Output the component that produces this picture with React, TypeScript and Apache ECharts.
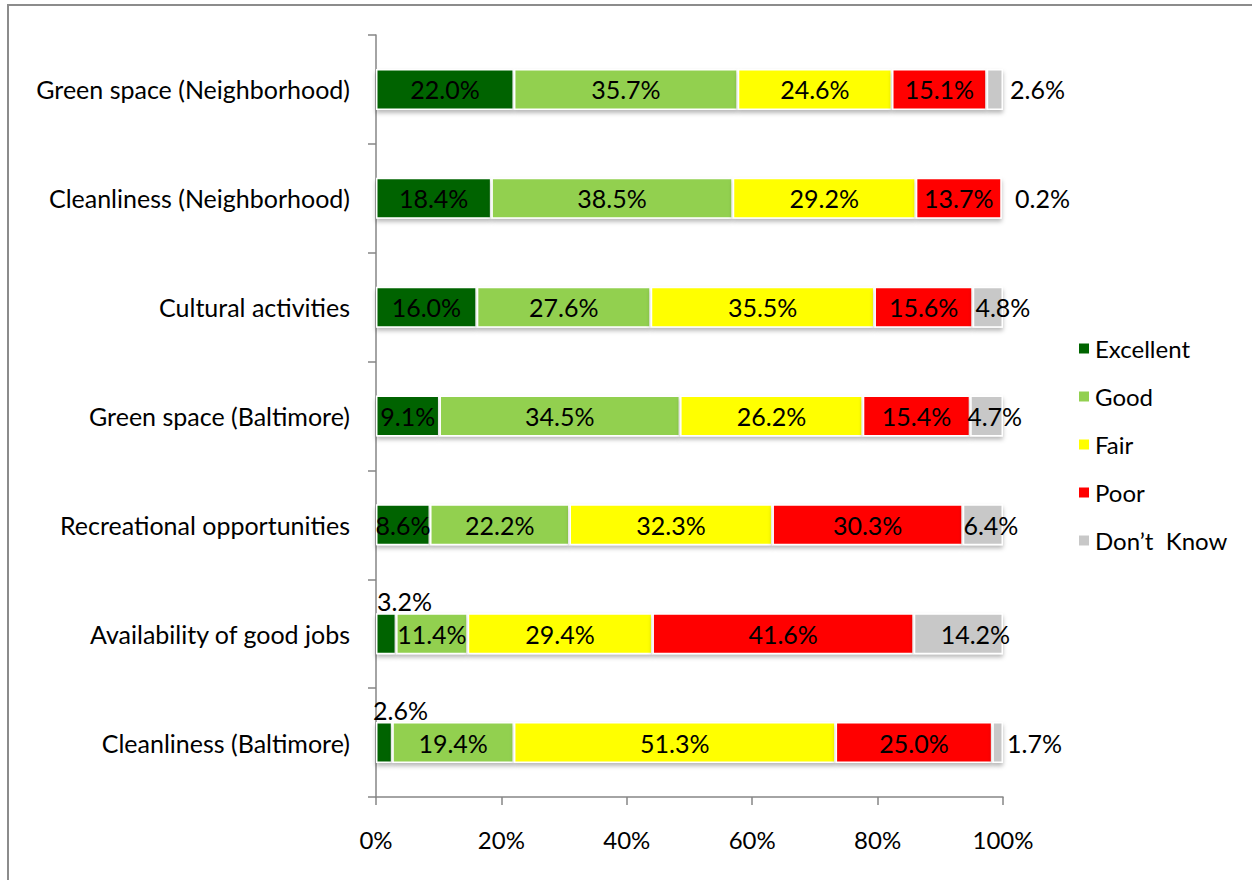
import React, { useEffect, useRef } from "react";
import * as echarts from "echarts";

const categories = [
  "Green space (Neighborhood)",
  "Cleanliness (Neighborhood)",
  "Cultural activities",
  "Green space (Baltimore)",
  "Recreational opportunities",
  "Availability of good jobs",
  "Cleanliness (Baltimore)",
];
const seriesNames = ["Excellent", "Good", "Fair", "Poor", "Don\u2019t  Know"];
const excellent = [22.0, 18.4, 16.0, 9.1, 8.6, 3.2, 2.6];
const good = [35.7, 38.5, 27.6, 34.5, 22.2, 11.4, 19.4];
const fair = [24.6, 29.2, 35.5, 26.2, 32.3, 29.4, 51.3];
const poor = [15.1, 13.7, 15.6, 15.4, 30.3, 41.6, 25.0];
const dontKnow = [2.6, 0.2, 4.8, 4.7, 6.4, 14.2, 1.7];
const xTicks = [0, 20, 40, 60, 80, 100];

const colors = ["#006400", "#92D050", "#FFFF00", "#FF0000", "#C8C8C8"];
const FONT = "Lato";

export default function App() {
  const ref = useRef<HTMLDivElement>(null);
  useEffect(() => {
    if (!ref.current) return;
    const chart = echarts.init(ref.current, undefined, { renderer: "svg" });
    const all = [excellent, good, fair, poor, dontKnow];
    const sums = categories.map((_, i) => all.reduce((s, arr) => s + arr[i], 0));

    // label tweaks (style only)
    const labelTweaks: Record<string, any> = {
      "0-5": { position: [1, -12], align: "left", verticalAlign: "middle" },
      "0-6": { position: [-3, -12], align: "left", verticalAlign: "middle" },
      "4-0": { position: "right", distance: 7 },
      "4-1": { position: "right", distance: 12 },
      "4-2": { position: "inside", offset: [15, 0] },
      "4-3": { position: "inside", offset: [8, 0] },
      "4-4": { position: "inside", offset: [8, 0] },
      "4-5": { position: "inside", offset: [17, 0] },
      "4-6": { position: "right", distance: 4 },
    };

    const series = all.map((arr, s) => ({
      name: seriesNames[s],
      type: "bar",
      stack: "total",
      barWidth: 41,
      itemStyle: {
        color: colors[s],
        borderColor: "#ffffff",
        borderWidth: 1.5,
        shadowColor: "rgba(0,0,0,0.28)",
        shadowBlur: 4,
        shadowOffsetY: 3,
      },
      label: {
        show: true,
        position: "inside",
        color: "#000",
        fontFamily: FONT,
        fontSize: 25,
        formatter: (p: any) => arr[p.dataIndex].toFixed(1) + "%",
      },
      data: arr.map((v, i) => {
        const item: any = { value: (v / sums[i]) * 100 };
        const t = labelTweaks[`${s}-${i}`];
        if (t) item.label = t;
        return item;
      }),
    }));

    chart.setOption({
      animation: false,
      backgroundColor: "#ffffff",
      textStyle: { fontFamily: FONT },
      graphic: [
        {
          type: "rect",
          shape: { x: 8, y: 5, width: 1400, height: 1000 },
          style: { fill: "none", stroke: "#8c8c8c", lineWidth: 2 },
          silent: true,
        },
      ],
      legend: {
        orient: "vertical",
        left: 1072,
        top: 331,
        itemWidth: 12,
        itemHeight: 12,
        itemGap: 23,
        icon: "rect",
        textStyle: { fontFamily: FONT, fontSize: 24, color: "#000", lineHeight: 25 },
        data: seriesNames,
      },
      grid: { left: 376, right: 249, top: 35, bottom: 83, containLabel: false },
      xAxis: {
        type: "value",
        min: xTicks[0],
        max: xTicks[xTicks.length - 1],
        interval: xTicks[1] - xTicks[0],
        axisLine: { show: true, lineStyle: { color: "#868686", width: 1.5 } },
        axisTick: { show: true, length: 8, lineStyle: { color: "#868686", width: 1.5 } },
        splitLine: { show: false },
        axisLabel: {
          formatter: "{value}%",
          color: "#000",
          fontFamily: FONT,
          fontSize: 24,
          margin: 30,
        },
      },
      yAxis: {
        type: "category",
        data: categories,
        inverse: true,
        axisLine: { show: true, lineStyle: { color: "#868686", width: 1.5 } },
        axisTick: { show: true, length: 8, lineStyle: { color: "#868686", width: 1.5 } },
        axisLabel: { color: "#000", fontFamily: FONT, fontSize: 25, margin: 26 },
      },
      series,
    });
    return () => chart.dispose();
  }, []);
  return (
    <div
      ref={ref}
      style={{ position: "absolute", left: 0, top: 0, width: 1252, height: 880, background: "#fff" }}
    />
  );
}
